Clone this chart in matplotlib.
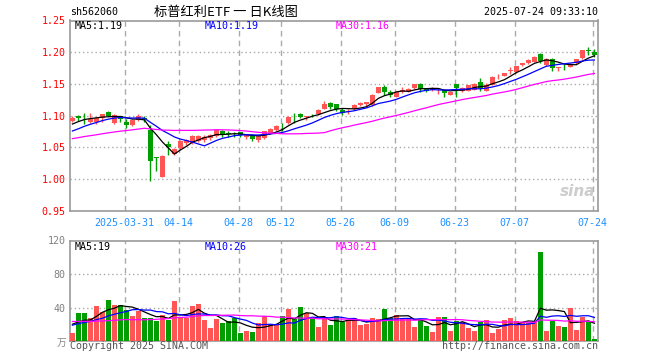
import matplotlib
matplotlib.use('Agg')
import matplotlib.pyplot as plt
import numpy as np

# ---------------- data ----------------
opens = [1.0916, 1.100, 1.0995, 1.0895, 1.0905, 1.0958, 1.1063, 1.088, 1.099, 1.0895,
         1.0853, 1.0937, 1.0958, 1.078, 1.0345, 1.0037, 1.0555, 1.040, 1.0496, 1.0563,
         1.0574, 1.060, 1.0625, 1.065, 1.0688, 1.0756, 1.0716, 1.0710, 1.074, 1.066,
         1.0704, 1.0625, 1.065, 1.0735, 1.0772, 1.0837, 1.0882, 1.1029, 1.1029, 1.0976,
         1.0993, 1.1029, 1.1113, 1.1202, 1.118, 1.1086, 1.106, 1.1106, 1.1163, 1.119,
         1.1174, 1.1355, 1.1459, 1.137, 1.1303, 1.138, 1.138, 1.1433, 1.1495, 1.143,
         1.140, 1.140, 1.141, 1.1334, 1.150, 1.1397, 1.1397, 1.1412, 1.1527, 1.1397,
         1.149, 1.162, 1.163, 1.1705, 1.169, 1.1795, 1.1826, 1.185, 1.1966, 1.180,
         1.190, 1.1758, 1.1785, 1.177, 1.1826, 1.1905, 1.2025, 1.200]
highs = [1.099, 1.1005, 1.104, 1.105, 1.0968, 1.103, 1.107, 1.102, 1.100, 1.0947,
         1.0947, 1.102, 1.100, 1.085, 1.035, 1.038, 1.060, 1.049, 1.062, 1.064,
         1.069, 1.069, 1.069, 1.071, 1.077, 1.078, 1.076, 1.075, 1.075, 1.071,
         1.071, 1.0704, 1.0767, 1.081, 1.0855, 1.0887, 1.099, 1.104, 1.1045, 1.100,
         1.102, 1.111, 1.1225, 1.121, 1.1185, 1.112, 1.110, 1.118, 1.1215, 1.1215,
         1.134, 1.1459, 1.148, 1.141, 1.139, 1.146, 1.1443, 1.1495, 1.151, 1.144,
         1.1445, 1.1435, 1.1415, 1.138, 1.1505, 1.146, 1.1485, 1.151, 1.160, 1.1515,
         1.1625, 1.1657, 1.168, 1.1766, 1.178, 1.1826, 1.189, 1.194, 1.199, 1.191,
         1.191, 1.177, 1.181, 1.183, 1.190, 1.203, 1.208, 1.2046]
lows = [1.0895, 1.0916, 1.087, 1.088, 1.087, 1.0895, 1.099, 1.0875, 1.0895, 1.080,
        1.084, 1.092, 1.0905, 0.9975, 1.013, 1.003, 1.038, 1.038, 1.048, 1.054,
        1.055, 1.058, 1.058, 1.062, 1.067, 1.066, 1.067, 1.067, 1.067, 1.064,
        1.060, 1.059, 1.064, 1.072, 1.076, 1.0767, 1.087, 1.089, 1.097, 1.094,
        1.098, 1.101, 1.1105, 1.1105, 1.108, 1.101, 1.102, 1.1095, 1.115, 1.115,
        1.115, 1.1355, 1.132, 1.130, 1.129, 1.136, 1.137, 1.142, 1.138, 1.138,
        1.139, 1.134, 1.129, 1.132, 1.129, 1.137, 1.139, 1.140, 1.1397, 1.139,
        1.148, 1.158, 1.162, 1.1665, 1.168, 1.179, 1.182, 1.184, 1.1826, 1.179,
        1.1705, 1.1705, 1.172, 1.176, 1.182, 1.190, 1.1956, 1.1926]
closes = [1.0968, 1.097, 1.0993, 1.0947, 1.0958, 1.1026, 1.100, 1.101, 1.0947, 1.0853,
          1.0932, 1.099, 1.0955, 1.029, 1.034, 1.036, 1.0515, 1.048, 1.061, 1.0625,
          1.0688, 1.0688, 1.0672, 1.070, 1.077, 1.0693, 1.0714, 1.0708, 1.069, 1.070,
          1.0641, 1.0678, 1.0756, 1.0798, 1.0845, 1.0835, 1.0976, 1.1026, 1.0976, 1.0995,
          1.099, 1.1097, 1.1191, 1.1134, 1.111, 1.1044, 1.108, 1.1173, 1.120, 1.121,
          1.1329, 1.1459, 1.138, 1.133, 1.138, 1.1407, 1.142, 1.1495, 1.1423, 1.139,
          1.143, 1.141, 1.136, 1.137, 1.1438, 1.1433, 1.1485, 1.150, 1.1438, 1.1485,
          1.1615, 1.163, 1.167, 1.171, 1.1776, 1.1826, 1.188, 1.193, 1.186, 1.190,
          1.1758, 1.177, 1.178, 1.182, 1.189, 1.203, 1.202, 1.1956]
volumes = [9.6, 33.8, 33.8, 27.3, 42.2, 34.2, 49.0, 43.0, 43.0, 37.0,
           30.2, 36.2, 27.3, 27.3, 24.1, 31.4, 24.9, 47.8, 27.3, 27.3,
           42.2, 44.2, 24.9, 15.3, 26.1, 21.7, 23.7, 26.9, 9.6, 11.7,
           10.5, 20.9, 30.2, 18.9, 18.9, 30.2, 38.2, 25.7, 41.0, 33.4,
           26.9, 16.5, 28.1, 18.9, 30.2, 22.1, 24.9, 26.9, 18.9, 20.1,
           27.3, 26.1, 38.2, 26.9, 31.0, 27.7, 26.9, 16.5, 24.9, 17.7,
           10.5, 28.5, 28.5, 11.7, 24.1, 22.5, 15.3, 11.7, 22.5, 24.9,
           9.2, 14.1, 24.9, 27.3, 23.3, 22.5, 21.7, 22.5, 105.7, 11.7,
           24.1, 17.7, 16.5, 39.8, 12.9, 28.5, 22.5, 2.0]
# closes / volumes of the 29 sessions before the first visible candle (for moving averages)
pre_close = [1.050, 1.048, 1.052, 1.055, 1.053, 1.057, 1.060, 1.058, 1.055, 1.059,
             1.062, 1.060, 1.058, 1.061, 1.063, 1.060, 1.058, 1.056, 1.064, 1.070,
             1.062, 1.060, 1.063, 1.068, 1.072, 1.078, 1.083, 1.087, 1.090]
pre_volume = [32, 28, 35, 27, 30, 38, 31, 26, 29, 35, 33, 33,
              18, 15, 17, 14, 19, 16, 17, 17,
              16, 19, 15, 21, 18, 20, 24, 25, 21.4]

tick_index = [9, 18, 28, 35, 45, 54, 64, 74, 87]
tick_labels = ['2025-03-31', '04-14', '04-28', '05-12', '05-26', '06-09', '06-23', '07-07', '07-24']
price_ticks = [0.95, 1.00, 1.05, 1.10, 1.15, 1.20, 1.25]
vol_ticks = [40, 80, 120]

ma_price_text = ['MA5:1.19', 'MA10:1.19', 'MA30:1.16']
ma_vol_text = ['MA5:19', 'MA10:26', 'MA30:21']

# ---------------- styling ----------------
RED = '#FF5555'
GREEN = '#009E00'
MA_COLORS = ['#000000', '#0000FF', '#FF00FF']
GRID = '#AAAAAA'
SPINE = '#999999'
MONO = 'DejaVu Sans Mono'
FS = 7.2

W, H = 660, 360
fig = plt.figure(figsize=(6.6, 3.6), dpi=100)
fig.patch.set_facecolor('white')

def frac(x0, y0, x1, y1):
    return [x0 / W, 1 - y1 / H, (x1 - x0) / W, (y1 - y0) / H]

ax = fig.add_axes(frac(70, 20.5, 598, 211))
axv = fig.add_axes(frac(70, 240.5, 598, 341))

o = np.array(opens); h = np.array(highs); l = np.array(lows); c = np.array(closes)
v = np.array(volumes)
n = len(c)
x = np.arange(n)
up = c >= o
cols = np.where(up, RED, GREEN)

def ma(series, pre, k):
    full = np.concatenate([pre, series])
    out = np.convolve(full, np.ones(k) / k, mode='valid')
    return out[-len(series):]

# price panel
ax.vlines(x, l, h, colors=cols, linewidth=1.0, zorder=3)
body_low = np.minimum(o, c)
body_h = np.maximum(np.abs(c - o), 0.0009)
ax.bar(x, body_h, bottom=body_low, width=0.8, color=cols, linewidth=0, zorder=4)
for k, col in zip([5, 10, 30], MA_COLORS):
    ax.plot(x, ma(c, np.array(pre_close), k), color=col, linewidth=0.9, zorder=5)

# volume panel
axv.bar(x, v, width=0.8, color=cols, linewidth=0, zorder=3)
for k, col in zip([5, 10, 30], MA_COLORS):
    axv.plot(x, ma(v, np.array(pre_volume), k), color=col, linewidth=0.9, zorder=5)

for a in (ax, axv):
    a.set_xlim(-0.4, n - 0.4)
    for t in tick_index:
        a.axvline(t - 0.3, color=GRID, linewidth=1.0, linestyle=(0, (4, 3)), zorder=1)
    for s in a.spines.values():
        s.set_color(SPINE)
        s.set_linewidth(1.2)
    a.set_xticks([])
    a.tick_params(axis='y', length=0, pad=3)

ax.set_ylim(0.95, 1.25)
ax.set_yticks(price_ticks)
ax.set_yticklabels(['%.2f' % t for t in price_ticks], fontsize=FS, family=MONO, color='#FF0000')
for t in price_ticks[1:-1]:
    ax.axhline(t, color=GRID, linewidth=1.0, linestyle=(0, (1, 2)), zorder=1)

axv.set_ylim(0, 120)
axv.set_yticks(vol_ticks)
axv.set_yticklabels([str(t) for t in vol_ticks], fontsize=FS, family=MONO, color='#808080')
for t in vol_ticks[:-1]:
    axv.axhline(t, color=GRID, linewidth=1.0, linestyle=(0, (1, 2)), zorder=1)

# date labels
for t, lab in zip(tick_index, tick_labels):
    ax.text(t - 0.3, -0.035, lab, transform=ax.get_xaxis_transform(), ha='center', va='top',
            fontsize=FS, family=MONO, color='#1E90FF')

# MA texts
for xp, txt, col in zip([75, 205, 336], ma_price_text, MA_COLORS):
    fig.text(xp / W, 1 - 26 / H, txt, fontsize=FS, family=MONO, color=col, va='center', ha='left')
for xp, txt, col in zip([75, 205, 336], ma_vol_text, MA_COLORS):
    fig.text(xp / W, 1 - 247 / H, txt, fontsize=FS, family=MONO, color=col, va='center', ha='left')

# header
fig.text(70 / W, 1 - 12 / H, 'sh562060', fontsize=FS, family=MONO, color='black', va='center', ha='left')
fig.text(226 / W, 1 - 12 / H, '标普红利ETF 一 日K线图', fontsize=9.5,
         family=['Noto Sans CJK SC', 'DejaVu Sans'], color='black', va='center', ha='center')
fig.text(598 / W, 1 - 12 / H, '2025-07-24 09:33:10', fontsize=FS, family=MONO, color='black',
         va='center', ha='right')

# footer
fig.text(62 / W, 1 - 343 / H, '万', fontsize=7, family=['Noto Sans CJK SC', 'DejaVu Sans'],
         color='#888888', va='center', ha='center')
fig.text(70 / W, 1 - 346 / H, 'Copyright 2025 SINA.COM', fontsize=FS, family=MONO, color='#555555',
         va='center', ha='left')
fig.text(598 / W, 1 - 346 / H, 'http://finance.sina.com.cn', fontsize=FS, family=MONO, color='#555555',
         va='center', ha='right')

# watermark
fig.text(578 / W, 1 - 192 / H, 'sina', fontsize=11, style='italic', weight='bold', color='#C8C8C8',
         va='center', ha='center', alpha=0.9)

fig.savefig('out.png', dpi=100)
